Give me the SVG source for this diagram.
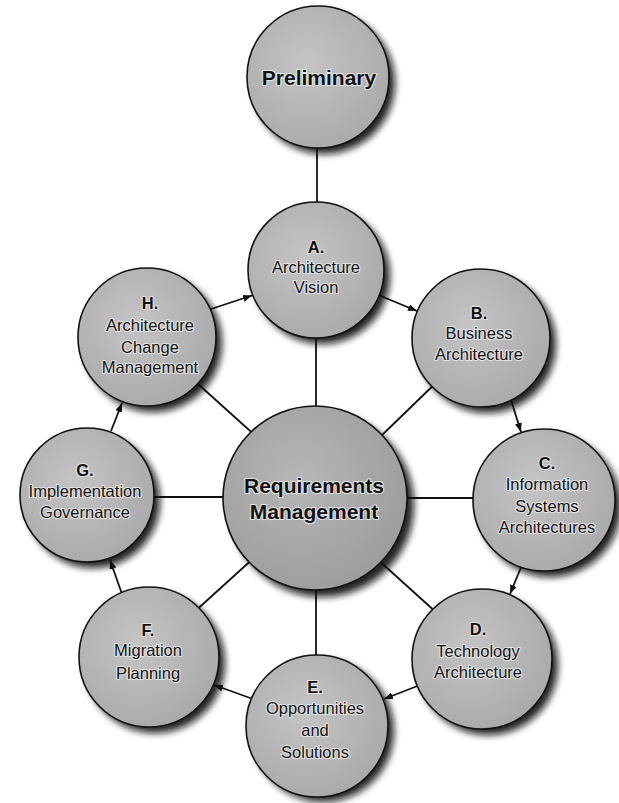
<svg xmlns="http://www.w3.org/2000/svg" width="619" height="803" viewBox="0 0 619 803">
<style>
.bg{fill:#ffffff}
.shadow{fill:#111111;filter:url(#blur);opacity:0.9}
.disc{fill:url(#grey);stroke:#111111;stroke-width:1.6}
.big{fill:url(#greyDark)}
.conn line{stroke:#111111;stroke-width:1.8;fill:none}
text{font-family:"Liberation Sans",Arial,sans-serif;fill:#111111;text-anchor:middle;paint-order:stroke;stroke:#e4e4e4;stroke-width:2.2;stroke-linejoin:round}
.t{font-size:16.5px}
.l{font-size:16.5px;font-weight:bold}
.h{font-size:21px;font-weight:bold}
</style>
<defs>
<filter id="blur" x="-20%" y="-20%" width="140%" height="140%"><feGaussianBlur stdDeviation="3.5"/></filter>
<radialGradient id="grey" cx="0.42" cy="0.4" r="0.65">
<stop offset="0" stop-color="#c4c4c4"/>
<stop offset="1" stop-color="#a9a9a9"/>
</radialGradient>
<radialGradient id="greyDark" cx="0.42" cy="0.4" r="0.65">
<stop offset="0" stop-color="#b6b6b6"/>
<stop offset="1" stop-color="#9c9c9c"/>
</radialGradient>
<marker id="arr" markerUnits="userSpaceOnUse" markerWidth="9" markerHeight="7" refX="9" refY="3.5" orient="auto">
<path d="M0,0 L9,3.5 L0,7 z" fill="#111111"/>
</marker>
</defs>
<rect class="bg" x="0" y="0" width="619" height="803"/>
<g id="connectors" class="conn">
<line x1="317" y1="140" x2="317" y2="210"/>
<line x1="208" y1="310" x2="252" y2="295.5" marker-end="url(#arr)"/>
<line x1="376" y1="294" x2="417" y2="311" marker-end="url(#arr)"/>
<line x1="511" y1="400" x2="521" y2="432" marker-end="url(#arr)"/>
<line x1="522" y1="565" x2="510" y2="594" marker-end="url(#arr)"/>
<line x1="420" y1="685" x2="384" y2="699" marker-end="url(#arr)"/>
<line x1="253" y1="699" x2="214" y2="685" marker-end="url(#arr)"/>
<line x1="122" y1="594" x2="110" y2="560" marker-end="url(#arr)"/>
<line x1="111" y1="431" x2="122" y2="403" marker-end="url(#arr)"/>
<line x1="316" y1="330" x2="316" y2="415"/>
<line x1="198" y1="384" x2="259" y2="439"/>
<line x1="443" y1="376" x2="378" y2="439"/>
<line x1="140" y1="497" x2="230" y2="497"/>
<line x1="400" y1="498" x2="480" y2="498"/>
<line x1="256" y1="556" x2="192" y2="614"/>
<line x1="376" y1="558" x2="438" y2="614"/>
<line x1="316" y1="580" x2="316" y2="660"/>
</g>
<g id="preliminary">
<circle class="shadow" cx="324" cy="83" r="71"/>
<circle class="disc" cx="318" cy="77" r="71"/>
<text class="h" x="319" y="85">Preliminary</text>
</g>
<g id="phase-a">
<circle class="shadow" cx="322" cy="276" r="68"/>
<circle class="disc" cx="316" cy="270" r="68"/>
<text class="l" x="316" y="253">A.</text>
<text class="t" x="316" y="273">Architecture</text>
<text class="t" x="316" y="293">Vision</text>
</g>
<g id="phase-h">
<circle class="shadow" cx="153" cy="343" r="69"/>
<circle class="disc" cx="147" cy="337" r="69"/>
<text class="l" x="150" y="309">H.</text>
<text class="t" x="150" y="331">Architecture</text>
<text class="t" x="150" y="353">Change</text>
<text class="t" x="150" y="373">Management</text>
</g>
<g id="phase-b">
<circle class="shadow" cx="487" cy="344" r="69"/>
<circle class="disc" cx="481" cy="338" r="69"/>
<text class="l" x="479" y="319">B.</text>
<text class="t" x="479" y="339">Business</text>
<text class="t" x="479" y="360">Architecture</text>
</g>
<g id="phase-g">
<circle class="shadow" cx="93" cy="501" r="67"/>
<circle class="disc" cx="87" cy="495" r="67"/>
<text class="l" x="85" y="476">G.</text>
<text class="t" x="85" y="497">Implementation</text>
<text class="t" x="85" y="518">Governance</text>
</g>
<g id="requirements-management">
<circle class="shadow" cx="322" cy="505" r="92"/>
<circle class="disc big" cx="315" cy="498" r="92"/>
<text class="h" x="314" y="493">Requirements</text>
<text class="h" x="314" y="519">Management</text>
</g>
<g id="phase-c">
<circle class="shadow" cx="550" cy="506" r="71"/>
<circle class="disc" cx="544" cy="500" r="71"/>
<text class="l" x="547" y="469">C.</text>
<text class="t" x="547" y="490">Information</text>
<text class="t" x="547" y="512">Systems</text>
<text class="t" x="547" y="533">Architectures</text>
</g>
<g id="phase-f">
<circle class="shadow" cx="155" cy="663" r="70"/>
<circle class="disc" cx="149" cy="657" r="70"/>
<text class="l" x="148" y="636">F.</text>
<text class="t" x="148" y="656">Migration</text>
<text class="t" x="148" y="679">Planning</text>
</g>
<g id="phase-d">
<circle class="shadow" cx="488" cy="665" r="70"/>
<circle class="disc" cx="482" cy="659" r="70"/>
<text class="l" x="478" y="635">D.</text>
<text class="t" x="478" y="657">Technology</text>
<text class="t" x="478" y="678">Architecture</text>
</g>
<g id="phase-e">
<circle class="shadow" cx="323" cy="731" r="71"/>
<circle class="disc" cx="317" cy="726" r="71"/>
<text class="l" x="315" y="693">E.</text>
<text class="t" x="315" y="714">Opportunities</text>
<text class="t" x="315" y="736">and</text>
<text class="t" x="315" y="758">Solutions</text>
</g>
</svg>
